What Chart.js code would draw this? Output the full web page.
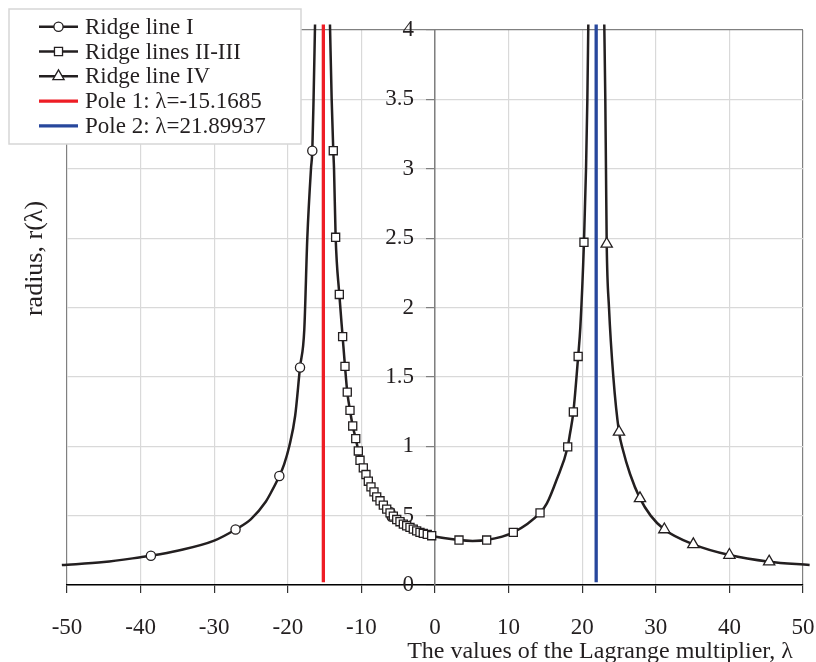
<!DOCTYPE html>
<html>
<head>
<meta charset="utf-8">
<script src="https://cdn.jsdelivr.net/npm/chart.js@4.4.1/dist/chart.umd.min.js"></script>
<style>
    html, body { margin: 0; padding: 0; background: #fff; }
    #wrap { width: 816px; height: 662px; position: relative; }
</style>
</head>
<body>
<div id="wrap"><canvas id="ridgeChart"></canvas></div>
<script>
// Ridge line I (left branch)
const ridgeICurveL = [-50.7, -45, -40, -38.6, -35, -30, -27.1, -25, -23, -22.3, -21.15, -20.5, -19.8, -19.0, -18.34, -17.76, -17.35, -16.85, -16.67, -16.5, -16.3];
const ridgeICurveR = [0.144, 0.165, 0.2, 0.211, 0.247, 0.32, 0.40, 0.475, 0.6, 0.665, 0.786, 0.87, 1.0, 1.22, 1.568, 1.84, 2.5, 3.0, 3.13, 3.5, 4.04];
const ridgeIMarkL = [-38.6, -27.1, -21.15, -18.34, -16.67];
const ridgeIMarkR = [0.211, 0.40, 0.786, 1.568, 3.13];

// Ridge lines II-III (between the poles)
const ridgeIIMarkL = [-13.82, -13.5, -13.0, -12.55, -12.23, -11.92, -11.55, -11.18, -10.77, -10.42, -10.19, -9.74, -9.38, -9.06, -8.7, -8.29, -7.92, -7.47, -7.02, -6.56, -6.11, -5.66, -5.2, -4.76, -4.3, -3.85, -3.4, -2.95, -2.49, -2.04, -1.59, -1.05, -0.45, 3.26, 7.02, 10.64, 14.27, 18.03, 18.8, 19.45, 20.24];
const ridgeIIMarkR = [3.13, 2.506, 2.094, 1.79, 1.576, 1.39, 1.259, 1.146, 1.055, 0.966, 0.899, 0.844, 0.796, 0.748, 0.707, 0.671, 0.635, 0.607, 0.576, 0.547, 0.52, 0.496, 0.472, 0.456, 0.439, 0.427, 0.415, 0.403, 0.39, 0.379, 0.372, 0.365, 0.355, 0.324, 0.324, 0.379, 0.52, 0.995, 1.247, 1.647, 2.47];
const ridgeIICurveL = [-14.27, -14.04, -13.82, -13.72, -13.5, -13.0, -12.55, -12.23, -11.92, -11.55, -11.18, -10.77, -10.42, -10.19, -9.74, -9.38, -9.06, -8.7, -8.29, -7.92, -7.47, -7.02, -6.56, -6.11, -5.66, -5.2, -4.76, -4.3, -3.85, -3.4, -2.95, -2.49, -2.04, -1.59, -1.05, -0.45, 3.26, 5.1, 7.02, 10.64, 14.27, 15.2, 16.5, 18.03, 18.34, 18.8, 19.45, 19.75, 20.24, 20.52, 20.7, 20.83];
const ridgeIICurveR = [4.04, 3.5, 3.13, 3.0, 2.506, 2.094, 1.79, 1.576, 1.39, 1.259, 1.146, 1.055, 0.966, 0.899, 0.844, 0.796, 0.748, 0.707, 0.671, 0.635, 0.607, 0.576, 0.547, 0.52, 0.496, 0.472, 0.456, 0.439, 0.427, 0.415, 0.403, 0.39, 0.379, 0.372, 0.365, 0.355, 0.324, 0.318, 0.324, 0.379, 0.52, 0.588, 0.755, 0.995, 1.09, 1.247, 1.647, 1.86, 2.47, 3.0, 3.5, 4.04];

// Ridge line IV (right branch)
const ridgeIVCurveL = [23.0, 23.14, 23.23, 23.33, 23.64, 24.23, 25.0, 25.5, 26.5, 27.85, 29.3, 31.16, 35.1, 40.0, 45.4, 50.9];
const ridgeIVCurveR = [4.04, 3.5, 3.0, 2.458, 2.0, 1.5, 1.103, 0.98, 0.80, 0.624, 0.50, 0.40, 0.293, 0.216, 0.168, 0.144];
const ridgeIVMarkL = [23.33, 25.0, 27.85, 31.16, 35.1, 40.0, 45.4];
const ridgeIVMarkR = [2.458, 1.103, 0.624, 0.40, 0.293, 0.216, 0.168];

// poles
const pole1 = -15.1685;
const pole2 = 21.89937;
const poleSpan = [0.02, 4.04];

const xTicks = [-50, -40, -30, -20, -10, 0, 10, 20, 30, 40, 50];
const yTicks = [0, 0.5, 1, 1.5, 2, 2.5, 3, 3.5, 4];

const ink = '#231f20';
const serif = '"Liberation Serif", "Times New Roman", serif';

function pts(xs, ys) {
    return xs.map((x, i) => ({ x: x, y: ys[i] }));
}

const lineClip = { left: 6, top: 7, right: 8, bottom: 0 };

// legend, axis titles and y label placement done by hand
const ridgeDecor = {
    id: 'ridgeDecor',
    beforeDraw(chart) {
        // y labels belong left of the centred axis, past the tick marks
        const axisX = chart.scales.x.getPixelForValue(0);
        chart.scales.y.getLabelItems().forEach(item => {
            item.options.translation[0] = axisX - 21;
            item.options.textAlign = 'right';
        });
    },
    afterDraw(chart) {
        const ctx = chart.ctx;

        ctx.save();
        ctx.font = '24px ' + serif;
        ctx.fillStyle = ink;
        // x title, right aligned under the axis
        ctx.textAlign = 'right';
        ctx.textBaseline = 'alphabetic';
        ctx.fillText('The values of the Lagrange multiplier, λ', 793, 658);
        // y title sits far left, away from the centred axis
        ctx.font = '26px ' + serif;
        ctx.translate(35, 258.5);
        ctx.rotate(-Math.PI / 2);
        ctx.textAlign = 'center';
        ctx.textBaseline = 'middle';
        ctx.fillText('radius, r(λ)', 0, 0);
        ctx.restore();

        // legend box
        ctx.save();
        ctx.fillStyle = '#fff';
        ctx.strokeStyle = '#d6d6d6';
        ctx.lineWidth = 1.5;
        ctx.fillRect(9, 9, 292, 135);
        ctx.strokeRect(9, 9, 292, 135);

        const rows = chart.data.datasets.filter(ds => ds.legendRow !== undefined)
            .sort((a, b) => a.legendRow - b.legendRow);
        rows.forEach(ds => {
            const y = 26.7 + ds.legendRow * 24.8;
            ctx.strokeStyle = ds.borderColor;
            ctx.lineWidth = ds.borderWidth;
            ctx.beginPath();
            ctx.moveTo(39, y);
            ctx.lineTo(78, y);
            ctx.stroke();
            if (ds.legendMarker) {
                ctx.fillStyle = '#fff';
                ctx.strokeStyle = ink;
                ctx.lineWidth = 1.3;
                Chart.helpers.drawPoint(ctx, {
                    pointStyle: ds.legendMarker.style,
                    radius: ds.legendMarker.radius,
                    borderWidth: 1.3,
                    rotation: 0
                }, 58.5, y);
            }
            ctx.fillStyle = ink;
            ctx.font = '23px ' + serif;
            ctx.textAlign = 'left';
            ctx.textBaseline = 'middle';
            ctx.fillText(ds.label, 85, y + 1);
        });
        ctx.restore();
    }
};

const chartCtx = document.getElementById('ridgeChart').getContext('2d');
new Chart(chartCtx, {
    type: 'line',
    data: {
        datasets: [
            {
                label: 'Ridge line I', legendRow: 0, legendMarker: { style: 'circle', radius: 4.6 },
                data: pts(ridgeICurveL, ridgeICurveR),
                borderColor: ink, borderWidth: 2.5, pointRadius: 0,
                cubicInterpolationMode: 'monotone', clip: lineClip, order: 1
            },
            {
                label: 'Ridge lines II-III', legendRow: 1, legendMarker: { style: 'rect', radius: 5.7 },
                data: pts(ridgeIICurveL, ridgeIICurveR),
                borderColor: ink, borderWidth: 2.5, pointRadius: 0,
                cubicInterpolationMode: 'monotone', clip: lineClip, order: 1
            },
            {
                label: 'Ridge line IV', legendRow: 2, legendMarker: { style: 'triangle', radius: 6.5 },
                data: pts(ridgeIVCurveL, ridgeIVCurveR),
                borderColor: ink, borderWidth: 2.5, pointRadius: 0,
                cubicInterpolationMode: 'monotone', clip: lineClip, order: 1
            },
            {
                label: 'Pole 1: λ=-15.1685', legendRow: 3,
                data: pts([pole1, pole1], poleSpan),
                borderColor: '#ee1d25', borderWidth: 3.3, pointRadius: 0, clip: lineClip, order: 2
            },
            {
                label: 'Pole 2: λ=21.89937', legendRow: 4,
                data: pts([pole2, pole2], poleSpan),
                borderColor: '#27479c', borderWidth: 3.3, pointRadius: 0, clip: lineClip, order: 2
            },
            // markers on top of the curves
            {
                label: 'I markers', data: pts(ridgeIMarkL, ridgeIMarkR), showLine: false,
                pointStyle: 'circle', pointRadius: 4.6, pointBackgroundColor: '#fff',
                pointBorderColor: ink, pointBorderWidth: 1.3, clip: lineClip, order: 0
            },
            {
                label: 'II-III markers', data: pts(ridgeIIMarkL, ridgeIIMarkR), showLine: false,
                pointStyle: 'rect', pointRadius: 5.7, pointBackgroundColor: '#fff',
                pointBorderColor: ink, pointBorderWidth: 1.3, clip: lineClip, order: 0
            },
            {
                label: 'IV markers', data: pts(ridgeIVMarkL, ridgeIVMarkR), showLine: false,
                pointStyle: 'triangle', pointRadius: 6.5, pointBackgroundColor: '#fff',
                pointBorderColor: ink, pointBorderWidth: 1.3, clip: lineClip, order: 0
            }
        ]
    },
    options: {
        responsive: true,
        maintainAspectRatio: false,
        animation: false,
        layout: { padding: { left: 67, right: 13, top: 30, bottom: 0 } },
        plugins: {
            legend: { display: false },
            tooltip: { enabled: false }
        },
        scales: {
            x: {
                type: 'linear', min: -50, max: 50,
                afterBuildTicks: axis => { axis.ticks = xTicks.map(v => ({ value: v })); },
                afterFit: axis => { axis.height = 77; axis.paddingLeft = 0; axis.paddingRight = 0; },
                ticks: { color: ink, padding: 21, font: { family: serif, size: 23 } },
                grid: {
                    color: c => (c.tick && Math.abs(c.tick.value) === 50) ? '#808080' : '#d9d9d9',
                    lineWidth: 1.2,
                    tickColor: '#333', tickLength: 8
                },
                border: { color: '#000', width: 1.5 }
            },
            y: {
                type: 'linear', min: 0, max: 4,
                position: { x: 0 },
                afterBuildTicks: axis => { axis.ticks = yTicks.map(v => ({ value: v })); },
                ticks: {
                    color: ink, padding: 10, font: { family: serif, size: 23 },
                    callback: v => String(v)
                },
                grid: {
                    color: c => (c.tick && c.tick.value === 4) ? '#808080' : '#d9d9d9',
                    lineWidth: 1.2,
                    tickColor: '#808080', tickLength: 8
                },
                border: { color: '#7f7f7f', width: 1.5 }
            }
        }
    },
    plugins: [ridgeDecor]
});
</script>
</body>
</html>
